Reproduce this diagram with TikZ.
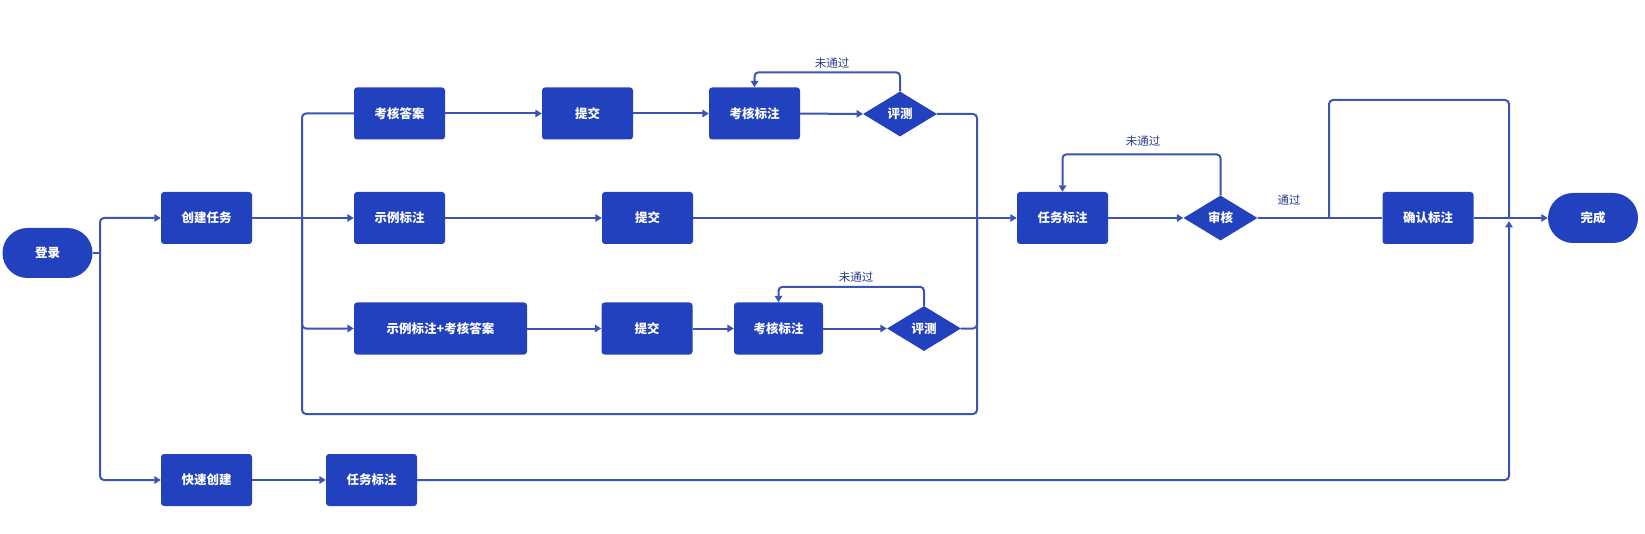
\documentclass[tikz,border=0pt]{standalone}
\usepackage{fontspec}
\setmainfont{Noto Sans CJK SC}
\usetikzlibrary{shapes.geometric,arrows.meta}
\definecolor{boxblue}{HTML}{2241BE}
\definecolor{lineblue}{HTML}{3D54B3}
\definecolor{lblblue}{HTML}{2B3B8F}
\begin{document}
\begin{tikzpicture}[x=1pt,y=-1pt,
 box/.style={rectangle,rounded corners=3pt,fill=boxblue,text=white,minimum width=91pt,minimum height=52pt,inner sep=0pt,font=\fontsize{12.5}{14}\selectfont\bfseries},
 term/.style={box,rounded corners=25pt,minimum width=90pt,minimum height=50pt},
 dia/.style={diamond,fill=boxblue,text=white,minimum width=74pt,minimum height=45pt,inner sep=0pt,aspect=1.64,font=\fontsize{12.5}{14}\selectfont\bfseries},
 conn/.style={draw=lineblue,line width=2pt,rounded corners=4pt},
 arr/.style={conn,-{Triangle[length=6.5pt,width=7.5pt]}},
 lbl/.style={text=lblblue,font=\fontsize{11.5}{13}\selectfont}
]
\useasboundingbox[fill=white] (0,0) rectangle (1645,534);

% nodes
\node[term] (dl) at (47.5,253) {登录};
\node[box] (cj) at (206.5,218) {创建任务};
\node[box] (ks) at (206.5,480) {快速创建};
\node[box] (rb) at (371.5,480) {任务标注};
\node[box] (khda) at (399.5,113.5) {考核答案};
\node[box] (tj1) at (587.5,113.5) {提交};
\node[box] (kb1) at (754.5,113.5) {考核标注};
\node[dia] (pc1) at (900,114) {评测};
\node[box] (slbz) at (399.5,218) {示例标注};
\node[box] (tj2) at (647.5,218) {提交};
\node[box,minimum width=173pt] (slkh) at (440.5,328.5) {示例标注+考核答案};
\node[box] (tj3) at (647,328.5) {提交};
\node[box,minimum width=89pt] (kb2) at (778.5,328.5) {考核标注};
\node[dia] (pc2) at (924,328.5) {评测};
\node[box] (rw) at (1062.5,218) {任务标注};
\node[dia] (sh) at (1220.5,218) {审核};
\node[box] (qr) at (1428,218) {确认标注};
\node[term] (wc) at (1593,218) {完成};

% junctions
\coordinate (j1) at (100,253);
\coordinate (j2) at (302,218);
\coordinate (m) at (977,218);
\coordinate (b1) at (1329,218);
\coordinate (b2) at (1509,218);

% login split
\draw[conn] (dl.east) -- (j1);
\draw[arr] (j1) |- (cj.west);
\draw[arr] (j1) |- (ks.west);
\draw[arr] (ks) -- (rb);

% create task split
\draw[conn] (cj.east) -- (j2);
\draw[conn] (j2) |- (khda.west);
\draw[arr] (j2) -- (slbz.west);
\draw[arr] (j2) |- (slkh.west);
\draw[conn] (j2) |- (977,414) -- (m);

% top row
\draw[arr] (khda) -- (tj1);
\draw[arr] (tj1) -- (kb1);
\draw[arr] (kb1) -- (pc1);
\draw[conn] (pc1.east) -| (m);
\draw[arr] (pc1.north) -- ++(0,-19) -| (kb1.north);
\node[lbl] (l1) at (832,63) {未通过};

% middle row
\draw[arr] (slbz) -- (tj2);
\draw[arr] (tj2) -- (rw);

% low row
\draw[arr] (slkh) -- (tj3);
\draw[arr] (tj3) -- (kb2);
\draw[arr] (kb2) -- (pc2);
\draw[conn] (pc2.east) -| (m);
\draw[arr] (pc2.north) -- ++(0,-19) -| (kb2.north);
\node[lbl] (l2) at (856,277) {未通过};

% review
\draw[arr] (rw) -- (sh);
\draw[arr] (sh.north) -- ++(0,-41) -| (rw.north);
\node[lbl] (l3) at (1143,141) {未通过};
\draw[conn] (sh.east) -- (qr.west);
\node[lbl] (l4) at (1289,200) {通过};
\draw[conn] (b1) -- (1329,100) -- (1509,100) -- (b2);
\draw[arr] (qr.east) -- (wc.west);
\draw[arr] (rb.east) -| (1509,221);
\end{tikzpicture}
\end{document}
